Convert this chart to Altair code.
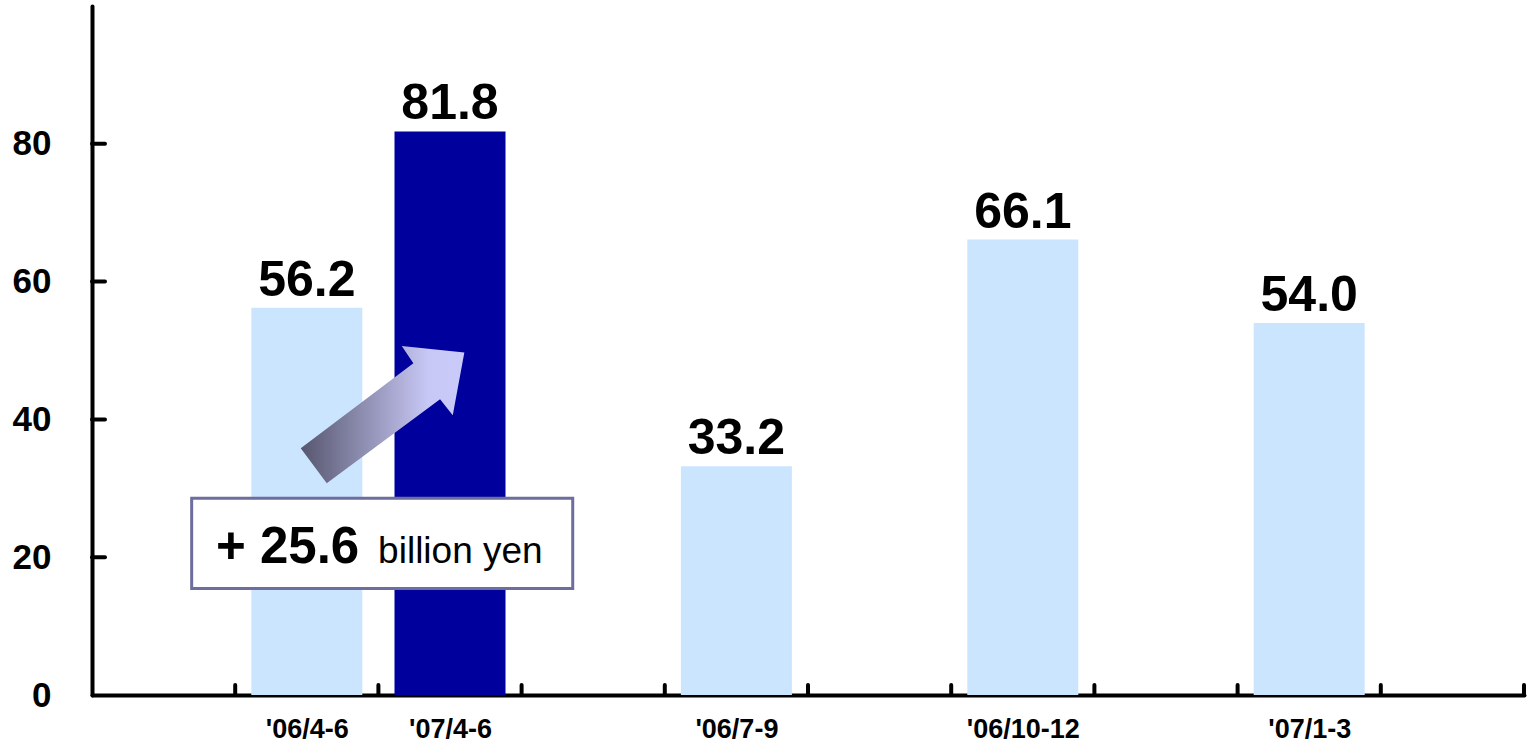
import json
import altair as alt
import pandas as pd

# ---- data ----
categories = ["'06/4-6", "'07/4-6", "'06/7-9", "'06/10-12", "'07/1-3"]
values = [56.2, 81.8, 33.2, 66.1, 54.0]
slots = [1.5, 2.5, 4.5, 6.5, 8.5]
groups = ["base", "current", "base", "base", "base"]
y_ticks = [0, 20, 40, 60, 80]
x_bounds = [1, 2, 3, 4, 5, 6, 7, 8, 9, 10]
change_text = ["+ 25.6"]
unit_text = ["billion yen"]

W, H = 1432, 689
FONT = "Liberation Sans"
LIGHT = "#CCE5FF"
DARK = "#00009C"

bars_df = pd.DataFrame({"cat": categories, "value": values, "pos": slots, "grp": groups})

xs = alt.Scale(domain=[0, 10], nice=False, zero=False, padding=0)
ys = alt.Scale(domain=[0, 100], nice=False, padding=0)

label_expr = " : ".join(
    f"datum.value == {p} ? {json.dumps(c)}" for p, c in zip(slots, categories)
) + " : ''"

x_axis = alt.Axis(
    values=slots, labelExpr=label_expr, title=None, ticks=False, tickSize=0,
    grid=False, domainColor="black", domainWidth=4, domainCap="round",
    labelFont=FONT, labelFontWeight="bold", labelFontSize=27, labelColor="black",
    labelBaseline="alphabetic", labelPadding=42, labelFlush=False)
y_axis = alt.Axis(
    values=y_ticks, title=None, ticks=False, tickSize=0, grid=False,
    domainColor="black", domainWidth=4, domainCap="round",
    labelFont=FONT, labelFontWeight="bold", labelFontSize=35, labelColor="black",
    labelPadding=41)


def X(f):
    return alt.X(f, scale=xs, axis=x_axis)


def Y(f):
    return alt.Y(f, scale=ys, axis=y_axis)


bars = alt.Chart(bars_df).mark_bar(width=111).encode(
    x=X("pos:Q"),
    y=Y("value:Q"),
    color=alt.Color("grp:N", scale=alt.Scale(domain=["base", "current"], range=[LIGHT, DARK]), legend=None),
)

value_labels = alt.Chart(bars_df).mark_text(
    font=FONT, fontWeight="bold", fontSize=50, color="black",
    baseline="alphabetic", dy=-12,
).encode(
    x=X("pos:Q"),
    y=Y("value:Q"),
    text=alt.Text("value:Q", format=".1f"),
)

ytick_rules = alt.Chart(pd.DataFrame({"t": y_ticks[1:]})).mark_rule(
    color="black", strokeWidth=4, strokeCap="round"
).encode(
    y=Y("t:Q"),
    x=alt.value(0), x2=alt.value(13),
)

xtick_rules = alt.Chart(pd.DataFrame({"b": x_bounds})).mark_rule(
    color="black", strokeWidth=4, strokeCap="round"
).encode(
    x=X("b:Q"),
    y=alt.value(H), y2=alt.value(H - 10),
)

# annotation box
box_df = pd.DataFrame({"x": [0.696], "x2": [3.357], "y": [15.47], "y2": [28.54]})
box = alt.Chart(box_df).mark_rect(
    fill="white", stroke="#6E6E9E", strokeWidth=3
).encode(
    x=X("x:Q"), x2="x2:Q",
    y=Y("y:Q"), y2="y2:Q",
)

change_lbl = alt.Chart(pd.DataFrame({"x": [0.866], "y": [19.1], "t": change_text})).mark_text(
    font=FONT, fontWeight="bold", fontSize=51, color="black", align="left", baseline="alphabetic"
).encode(
    x=X("x:Q"), y=Y("y:Q"), text="t:N"
)

unit_lbl = alt.Chart(pd.DataFrame({"x": [1.998], "y": [19.1], "t": unit_text})).mark_text(
    font=FONT, fontSize=37, color="black", align="left", baseline="alphabetic"
).encode(
    x=X("x:Q"), y=Y("y:Q"), text="t:N"
)

# arrow (custom symbol shape)
arrow_path = ("M -0.818 0.336 L 0.308 -0.514 L 0.192 -0.687 L 0.818 -0.622 "
              "L 0.702 0.006 L 0.575 -0.154 L -0.558 0.686 Z")
grad = alt.LinearGradient(
    gradient="linear", x1=0, x2=1, y1=0, y2=0,
    stops=[alt.GradientStop(color="#56566F", offset=0),
           alt.GradientStop(color="#C8C8F6", offset=0.78),
           alt.GradientStop(color="#CACAFA", offset=1)],
)
arrow = alt.Chart(pd.DataFrame({"x": [2.029], "y": [40.68]})).mark_point(
    shape=arrow_path, size=40000, filled=True, fill=grad, opacity=1, fillOpacity=1, strokeWidth=0
).encode(
    x=X("x:Q"), y=Y("y:Q")
)

chart = alt.layer(
    bars, value_labels, ytick_rules, xtick_rules, box, change_lbl, unit_lbl, arrow
).properties(
    width=W, height=H,
    padding={"left": 92, "top": 6, "right": 6, "bottom": 48},
    autosize=alt.AutoSizeParams(type="none"),
    background="white",
).configure_view(stroke=None)

chart.save("out.html", embed_options={"renderer": "svg", "actions": False})
